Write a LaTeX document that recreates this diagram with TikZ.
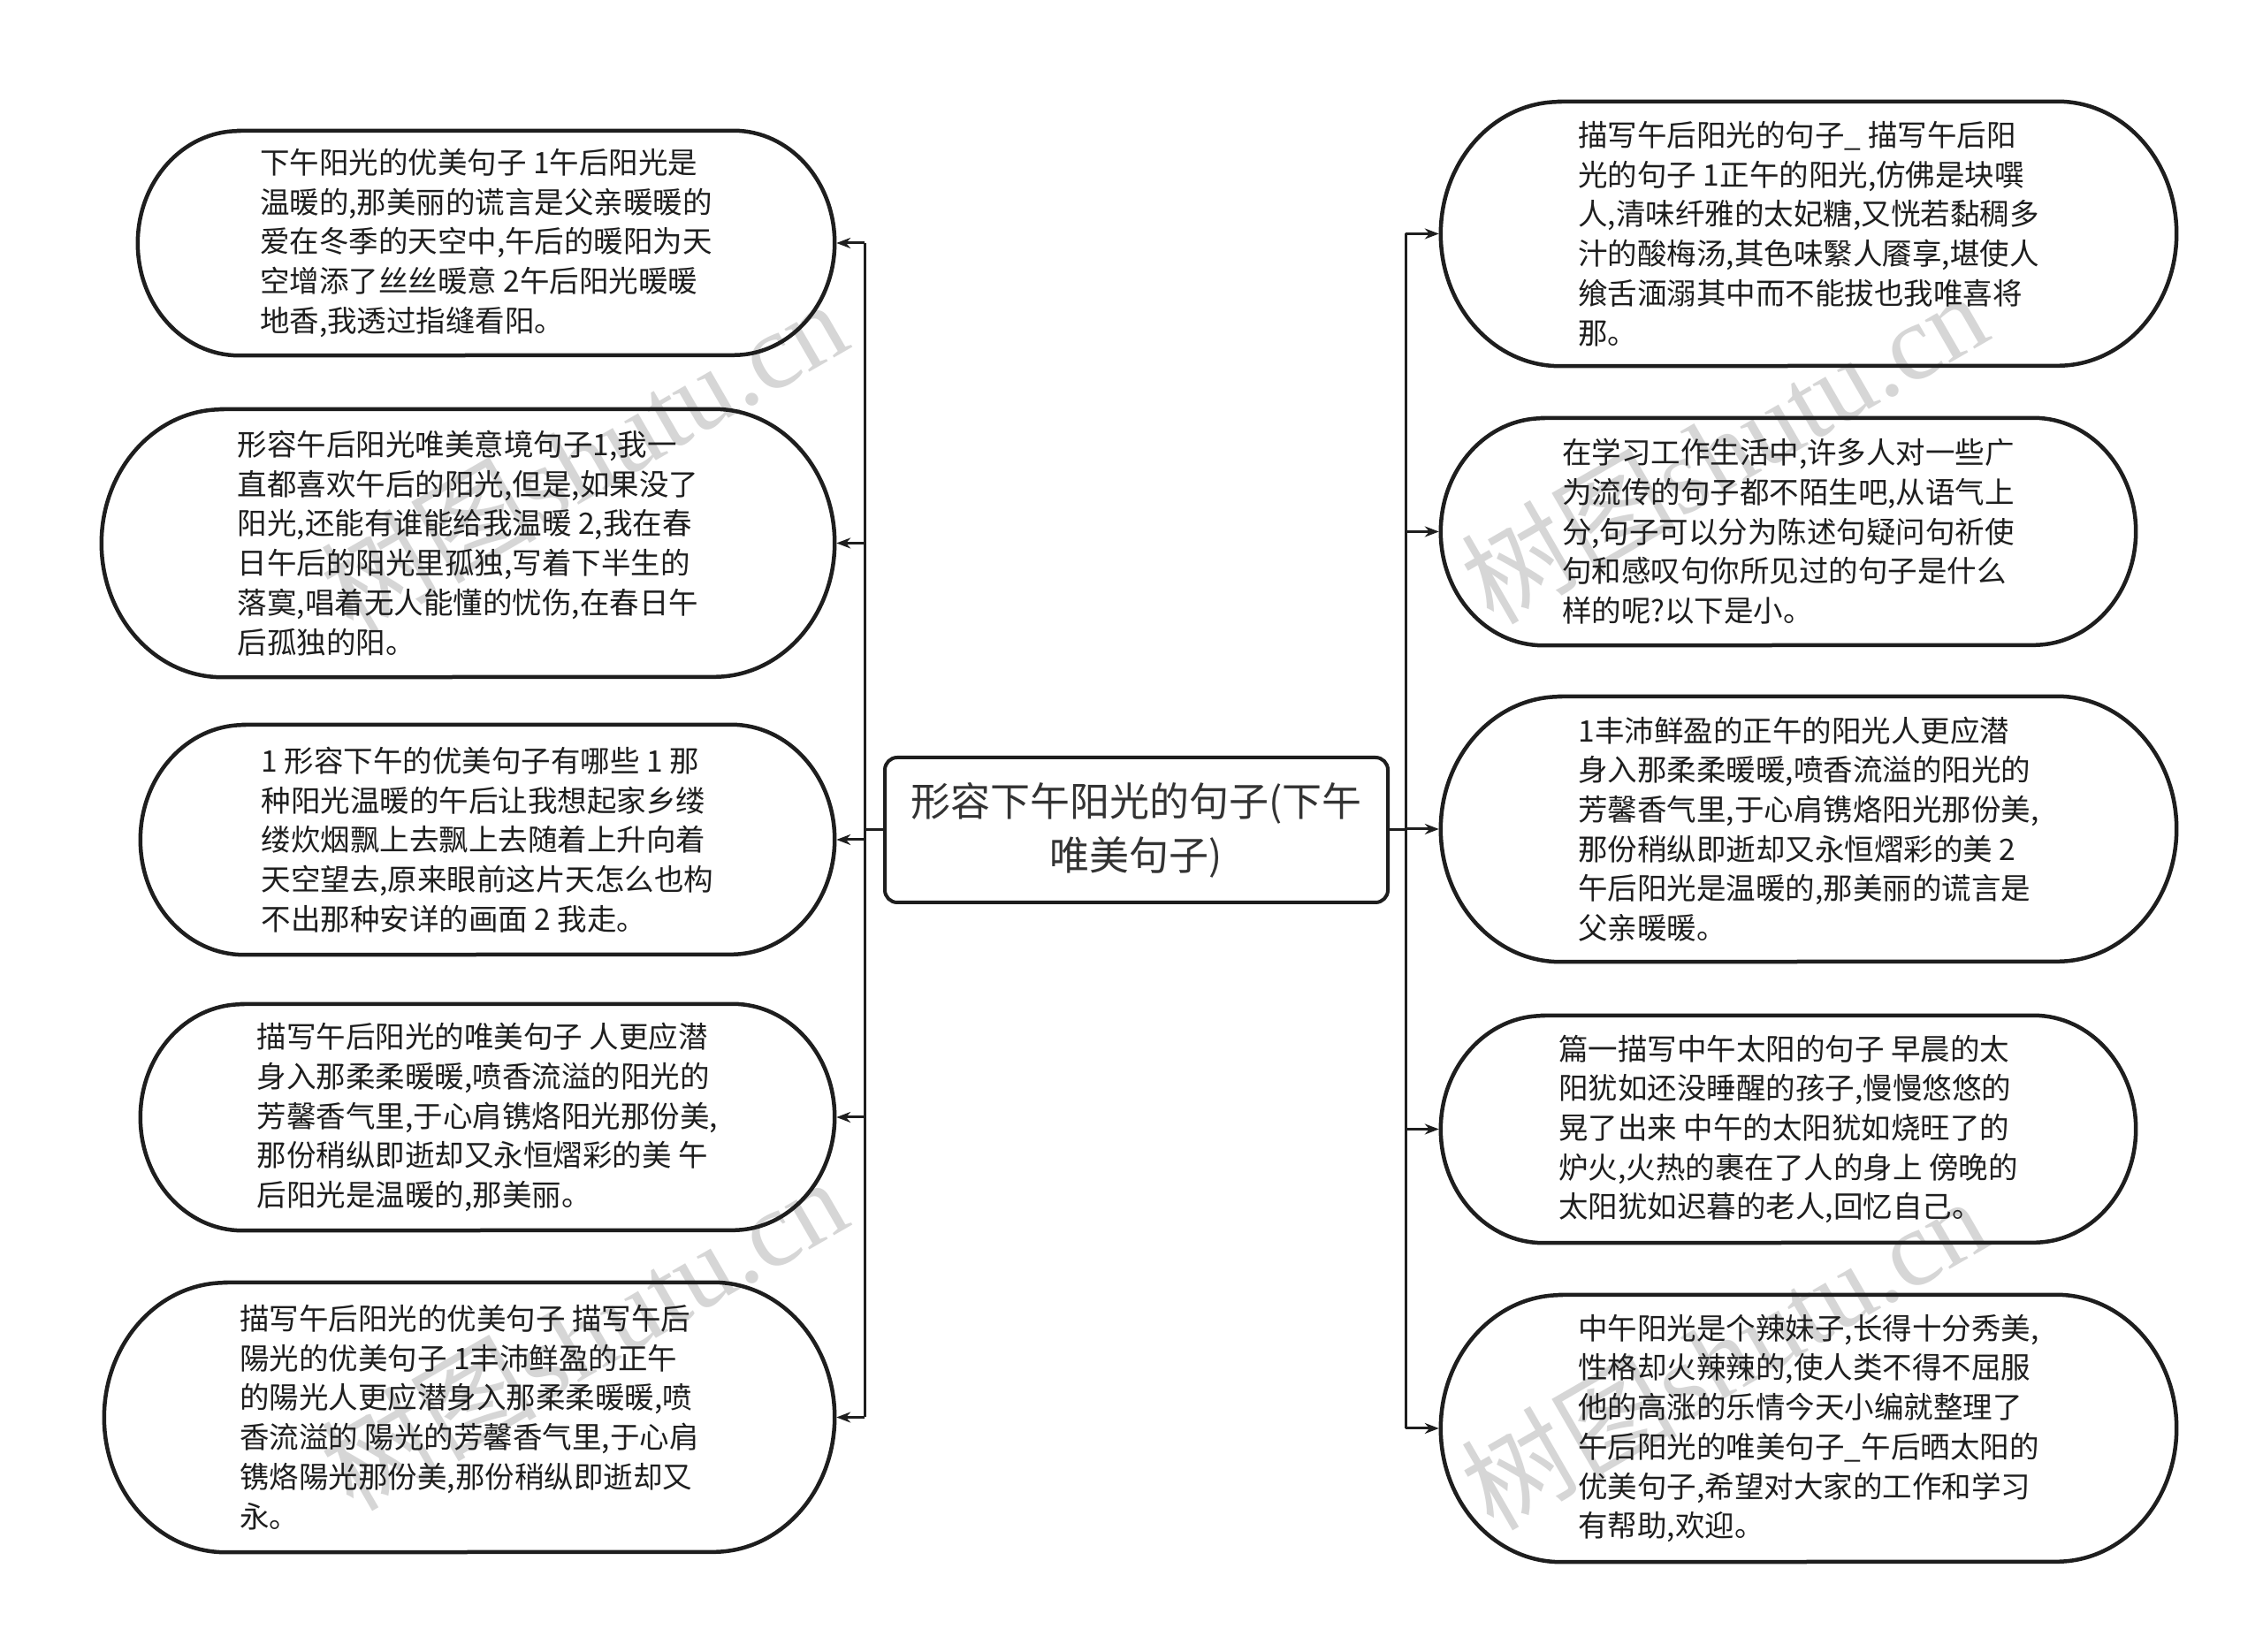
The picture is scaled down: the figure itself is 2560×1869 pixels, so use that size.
\documentclass[tikz,border=0pt]{standalone}
\usepackage{fontspec}
\setmainfont{Noto Sans CJK SC}
\newfontfamily\wmserif{Liberation Serif}
\usetikzlibrary{arrows.meta,calc}
\definecolor{txt}{HTML}{1E1E1E}
\definecolor{ln}{HTML}{1E1E1E}
\definecolor{ctxt}{HTML}{333333}
\definecolor{wmc}{HTML}{D6D6D6}
\tikzset{
  ptext/.style={align=left, inner sep=0pt, text=txt, font=\fontsize{33.5}{44.7}\selectfont},
  pillline/.style={draw=ln, line width=4.5pt},
  conn/.style={draw=ln, line width=3pt},
  arr/.style={conn, -{Stealth[length=16pt,width=12pt]}, shorten >=2pt},
  wm/.style={text=wmc, rotate=30, font=\fontsize{122}{122}\selectfont, inner sep=0pt},
  centerbox/.style={draw=ln, line width=4pt, rounded corners=14pt, align=center, text=ctxt,
    font=\fontsize{45}{61}\selectfont, inner sep=0pt, minimum width=569pt, minimum height=164pt},
}
\newcommand\pill[6]{%
  \node[ptext, minimum width=#4pt, minimum height=#5pt] (#1) at (#2,1869-#3) {#6};
  \draw[pillline] ($(#1.north west)+(0.45*#5,0)$) -- ($(#1.north east)-(0.45*#5,0)$)
    arc[start angle=90, end angle=-90, x radius=0.45*#5pt, y radius=0.5*#5pt]
    -- ($(#1.south west)+(0.45*#5,0)$)
    arc[start angle=270, end angle=90, x radius=0.45*#5pt, y radius=0.5*#5pt] -- cycle;
}
\begin{document}
\begin{tikzpicture}[x=1pt,y=1pt]
\useasboundingbox[fill=white] (0,0) rectangle (2560,1869);
% watermarks
\node[wm] (w1) at (660,1869-515) {树图\wmserif shutu.cn};
\node[wm] (w2) at (1950,1869-505) {树图\wmserif shutu.cn};
\node[wm] (w3) at (660,1869-1508) {树图\wmserif shutu.cn};
\node[wm] (w4) at (1950,1869-1530) {树图\wmserif shutu.cn};
% left nodes
\pill{L1}{550}{275}{788}{254}{下午阳光的优美句子 1午后阳光是\\温暖的,那美丽的谎言是父亲暖暖的\\爱在冬季的天空中,午后的暖阳为天\\空增添了丝丝暖意 2午后阳光暖暖\\地香,我透过指缝看阳。}
\pill{L2}{529.5}{614.5}{829}{303}{形容午后阳光唯美意境句子1,我一\\直都喜欢午后的阳光,但是,如果没了\\阳光,还能有谁能给我温暖 2,我在春\\日午后的阳光里孤独,写着下半生的\\落寞,唱着无人能懂的忧伤,在春日午\\后孤独的阳。}
\pill{L3}{551.5}{950}{785}{260}{1 形容下午的优美句子有哪些 1 那\\种阳光温暖的午后让我想起家乡缕\\缕炊烟飘上去飘上去随着上升向着\\天空望去,原来眼前这片天怎么也构\\不出那种安详的画面 2 我走。}
\pill{L4}{551.5}{1264}{785}{256}{描写午后阳光的唯美句子 人更应潜\\身入那柔柔暖暖,喷香流溢的阳光的\\芳馨香气里,于心肩镌烙阳光那份美,\\那份稍纵即逝却又永恒熠彩的美 午\\后阳光是温暖的,那美丽。}
\pill{L5}{531}{1603.5}{826}{305}{描写午后阳光的优美句子 描写午后\\陽光的优美句子 1丰沛鲜盈的正午\\的陽光人更应潜身入那柔柔暖暖,喷\\香流溢的 陽光的芳馨香气里,于心肩\\镌烙陽光那份美,那份稍纵即逝却又\\永。}
% right nodes
\pill{R1}{2046}{264.5}{832}{299}{描写午后阳光的句子\_ 描写午后阳\\光的句子 1正午的阳光,仿佛是块噀\\人,清味纤雅的太妃糖,又恍若黏稠多\\汁的酸梅汤,其色味繄人餍享,堪使人\\飨舌湎溺其中而不能拔也我唯喜将\\那。}
\pill{R2}{2023}{601.5}{786}{257}{在学习工作生活中,许多人对一些广\\为流传的句子都不陌生吧,从语气上\\分,句子可以分为陈述句疑问句祈使\\句和感叹句你所见过的句子是什么\\样的呢?以下是小。}
\pill{R3}{2046}{938}{832}{300}{1丰沛鲜盈的正午的阳光人更应潜\\身入那柔柔暖暖,喷香流溢的阳光的\\芳馨香气里,于心肩镌烙阳光那份美,\\那份稍纵即逝却又永恒熠彩的美 2\\午后阳光是温暖的,那美丽的谎言是\\父亲暖暖。}
\pill{R4}{2023}{1277.5}{786}{257}{篇一描写中午太阳的句子 早晨的太\\阳犹如还没睡醒的孩子,慢慢悠悠的\\晃了出来 中午的太阳犹如烧旺了的\\炉火,火热的裹在了人的身上 傍晚的\\太阳犹如迟暮的老人,回忆自己。}
\pill{R5}{2046}{1616}{832}{302}{中午阳光是个辣妹子,长得十分秀美,\\性格却火辣辣的,使人类不得不屈服\\他的高涨的乐情今天小编就整理了\\午后阳光的唯美句子\_午后晒太阳的\\优美句子,希望对大家的工作和学习\\有帮助,欢迎。}
% center
\node[centerbox] (c) at (1285.5,1869-939) {形容下午阳光的句子(下午\\唯美句子)};
% connectors
\draw[conn] (c.west) -- ++(-21,0) coordinate (lj);
\draw[conn] (lj |- L1.east) -- (lj |- L5.east);
\foreach \n in {L1,L2,L3,L4,L5} \draw[arr] (lj |- \n.east) -- (\n.east);
\draw[conn] (c.east) -- ++(18,0) coordinate (rj);
\draw[conn] (rj |- R1.west) -- (rj |- R5.west);
\foreach \n in {R1,R2,R3,R4,R5} \draw[arr] (rj |- \n.west) -- (\n.west);
\end{tikzpicture}
\end{document}
